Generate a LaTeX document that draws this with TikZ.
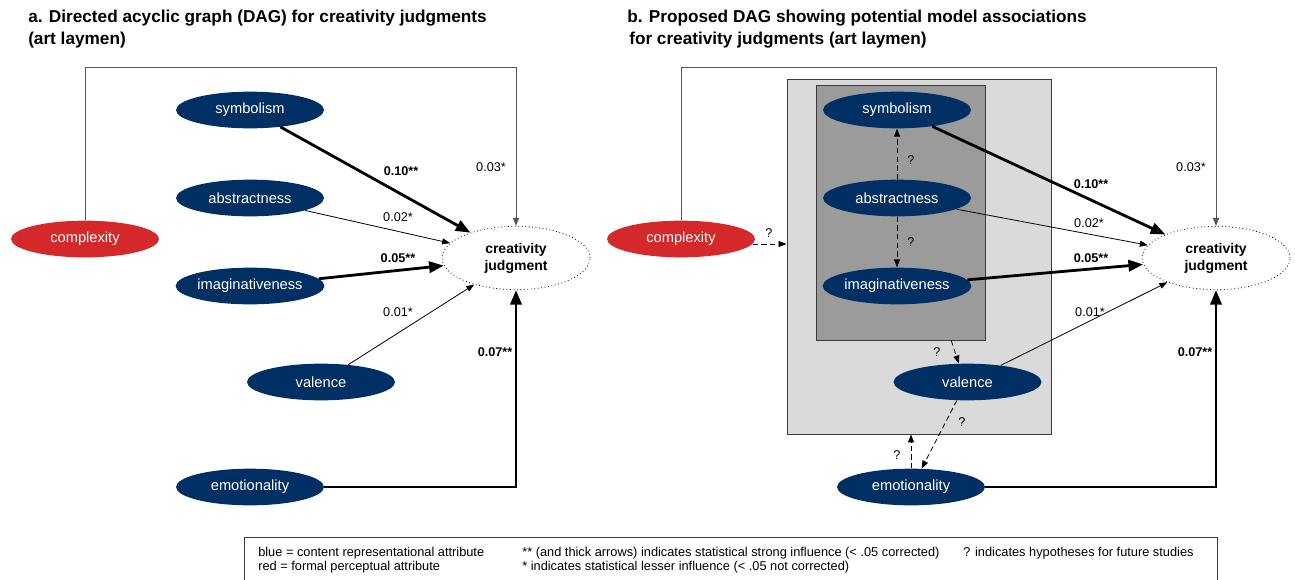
\documentclass[tikz,border=0pt]{standalone}
\usepackage{fontspec}
\setmainfont{Liberation Sans}
\usetikzlibrary{arrows.meta,shapes.geometric,calc}
\definecolor{navy}{RGB}{0,48,99}
\definecolor{redc}{RGB}{212,40,42}
\definecolor{lightbox}{RGB}{218,218,218}
\definecolor{darkbox}{RGB}{155,155,155}
\definecolor{framec}{RGB}{85,85,85}
\definecolor{boxline}{RGB}{60,60,60}
\begin{document}
\begin{tikzpicture}[x=0.75pt,y=-0.75pt,
  attr/.style={ellipse, fill=navy, text=white, minimum width=111pt, minimum height=27.5pt, inner sep=0pt, font=\fontsize{11}{13}\selectfont},
  redattr/.style={attr, fill=redc},
  outcome/.style={ellipse, draw, dotted, line width=0.6pt, minimum width=111pt, minimum height=47.5pt, inner sep=0pt, align=center, font=\bfseries\fontsize{10.5}{12.8}\selectfont},
  strong/.style={line width=2.1pt, -{Triangle[length=11pt,width=8.5pt]}},
  weak/.style={line width=0.6pt, -{Triangle[length=6pt,width=4.5pt]}},
  frameline/.style={line width=0.7pt, draw=framec, -{Triangle[length=6pt,width=4.5pt]}},
  qarrow/.style={line width=0.6pt, dash pattern=on 4pt off 2.5pt, -{Triangle[length=6pt,width=4.5pt]}},
  lbl/.style={font=\fontsize{9.5}{11}\selectfont, inner sep=0pt},
  blbl/.style={font=\bfseries\fontsize{9.5}{11}\selectfont, inner sep=0pt},
  qlbl/.style={font=\fontsize{9.5}{11}\selectfont, inner sep=0pt},
  title/.style={anchor=west, inner sep=0pt, font=\bfseries\fontsize{12.9}{15}\selectfont},
  legtext/.style={anchor=west, inner sep=0pt, font=\fontsize{9.6}{11}\selectfont}
]
\useasboundingbox (0,0) rectangle (1295,579);

% ---------- titles ----------
\node[title] (tA1) at (28,18) {a. Directed acyclic graph (DAG) for creativity judgments};
\node[title] (tA2) at (28,40) {(art laymen)};
\node[title] (tB1) at (627,18) {b. Proposed DAG showing potential model associations};
\node[title] (tB2) at (629,40) {for creativity judgments (art laymen)};

% ---------- panel a ----------
\node[redattr] (cxA) at (85,239) {complexity};
\node[attr] (symA) at (250,110) {symbolism};
\node[attr] (absA) at (250,198) {abstractness};
\node[attr] (imgA) at (250,286) {imaginativeness};
\node[attr] (valA) at (321,382) {valence};
\node[attr] (emoA) at (250,487) {emotionality};
\node[outcome] (cjA) at (516,258) {creativity\\judgment};
\coordinate (topA) at (516,67);

\draw[frameline] (cxA.north) |- (topA) -- (cjA.north);
\draw[strong] (symA) -- (cjA);
\draw[weak] (absA) -- (cjA);
\draw[strong] (imgA) -- (cjA);
\draw[weak] (valA) -- (cjA);
\draw[strong] (emoA.east) -| (cjA.south);

\node[blbl] (lA1) at (401,171) {0.10**};
\node[lbl]  (lA2) at (398,217) {0.02*};
\node[blbl] (lA3) at (398,258) {0.05**};
\node[lbl]  (lA4) at (398,312) {0.01*};
\node[blbl] (lA5) at (495,352) {0.07**};
\node[lbl]  (lA6) at (491,167) {0.03*};

% ---------- panel b ----------
\node[draw=boxline, line width=0.7pt, fill=lightbox, minimum width=198pt, minimum height=266.25pt, inner sep=0pt] (lbox) at (919,256.5) {};
\node[draw=boxline, line width=0.7pt, fill=darkbox, minimum width=126.75pt, minimum height=191.25pt, inner sep=0pt] (dbox) at (900.5,212.5) {};

\node[redattr] (cxB) at (681,239) {complexity};
\node[attr] (symB) at (897,110) {symbolism};
\node[attr] (absB) at (897,198) {abstractness};
\node[attr] (imgB) at (897,286) {imaginativeness};
\node[attr] (valB) at (967.5,382) {valence};
\node[attr] (emoB) at (911,487) {emotionality};
\node[outcome] (cjB) at (1216,258) {creativity\\judgment};
\coordinate (topB) at (1216,67);

\draw[frameline] (cxB.north) |- (topB) -- (cjB.north);
\draw[strong] (symB) -- (cjB);
\draw[weak] (absB) -- (cjB);
\draw[strong] (imgB) -- (cjB);
\draw[weak] (valB) -- (cjB);
\draw[strong] (emoB.east) -| (cjB.south);

\draw[qarrow] (absB) -- (symB);
\draw[qarrow] (absB) -- (imgB);
\draw[qarrow] (cxB.-4) -- (cxB.-4 -| lbox.west);
\draw[qarrow] ([xshift=38pt]dbox.south) -- (valB.115);
\draw[qarrow] (valB.240) -- (emoB.60);
\draw[qarrow] (emoB.north) -- (emoB.north |- lbox.south);

\node[qlbl] (q1) at (911,160) {?};
\node[qlbl] (q2) at (911,242) {?};
\node[qlbl] (q3) at (769,233) {?};
\node[qlbl] (q4) at (937,352) {?};
\node[qlbl] (q5) at (962,422) {?};
\node[qlbl] (q6) at (897,455) {?};

\node[blbl] (lB1) at (1091,184) {0.10**};
\node[lbl]  (lB2) at (1089,223) {0.02*};
\node[blbl] (lB3) at (1091,258) {0.05**};
\node[lbl]  (lB4) at (1090,312) {0.01*};
\node[blbl] (lB5) at (1195,352) {0.07**};
\node[lbl]  (lB6) at (1191,167) {0.03*};

% ---------- legend ----------
\draw[draw=boxline, line width=0.7pt] (244,600) -- (244,537) -- (1217,537) -- (1217,600);
\node[legtext] (g1) at (258,553) {blue = content representational attribute};
\node[legtext] (g2) at (258,567) {red = formal perceptual attribute};
\node[legtext] (g3) at (522,553) {** (and thick arrows) indicates statistical strong influence (< .05 corrected)};
\node[legtext] (g4) at (522,567) {* indicates statistical lesser influence (< .05 not corrected)};
\node[legtext] (g5) at (963,553) {? indicates hypotheses for future studies};
\end{tikzpicture}
\end{document}
